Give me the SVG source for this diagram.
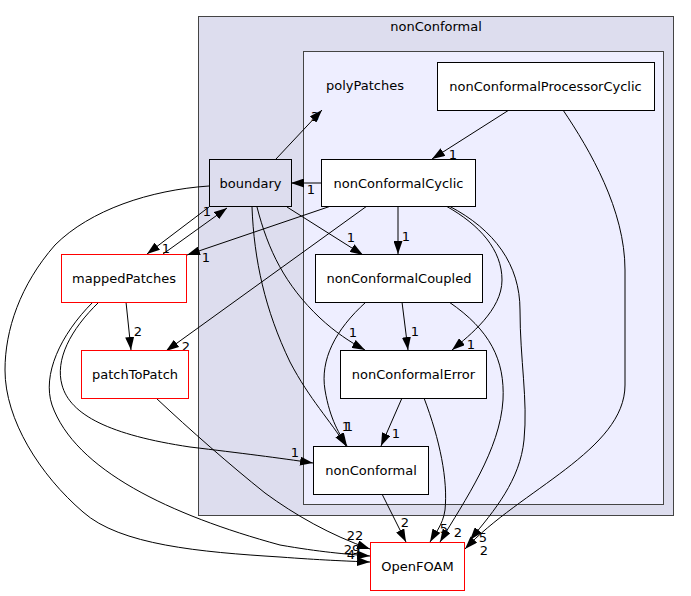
<svg xmlns="http://www.w3.org/2000/svg" width="691" height="596" viewBox="0 0 691 596">
<style>
text{font-family:"DejaVu Sans",sans-serif;font-size:13px;fill:#000}
.n{text-anchor:middle}
.lbl{text-anchor:middle}
.box{fill:#fff;stroke:#000;stroke-width:1}
.red{fill:#fff;stroke:#ff0000;stroke-width:1}
.e{fill:none;stroke:#000;stroke-width:1;marker-end:url(#a)}
</style>
<defs>
<marker id="a" viewBox="0 0 13 9" refX="13" refY="4.5" markerWidth="13" markerHeight="9" markerUnits="userSpaceOnUse" orient="auto">
<path d="M0,0 L13,4.5 L0,9 z" fill="#000"/>
</marker>
</defs>
<rect width="691" height="596" fill="#fff"/>
<g id="cluster_nonConformal">
<rect x="198.5" y="16.5" width="475" height="499" fill="#ddddee" stroke="#444"/>
<text class="n" x="436" y="31">nonConformal</text>
</g>
<g id="cluster_polyPatches">
<rect x="303.5" y="51.5" width="360" height="453" fill="#eeeeff" stroke="#444"/>
<text class="n" x="365" y="90">polyPatches</text>
</g>
<g id="edges">
<path class="e" d="M276,159 L322,110"/>
<path class="e" d="M509,110 L432,159"/>
<path class="e" d="M563,110 C590,150 625,210 625,270 L625,385 C625,450 520,490 465,549"/>
<path class="e" d="M321,183 L291,183"/>
<path class="e" d="M331,206 L187,255"/>
<path class="e" d="M367,206 L166,351"/>
<path class="e" d="M398,206 L398,254"/>
<path class="e" d="M446,206 C480,225 502,250 502,280 C502,310 470,335 452,350"/>
<path class="e" d="M449,206 C495,230 520,265 520,310 C520,360 528,400 524,440 C520,480 495,510 470,540"/>
<path class="e" d="M402,302 L408,350"/>
<path class="e" d="M366,302 C335,330 320,360 325,390 C330,420 340,435 347,446"/>
<path class="e" d="M449,302 C490,330 505,360 503,400 C500,450 465,500 440,542"/>
<path class="e" d="M402,398 L381,446"/>
<path class="e" d="M424,398 C440,440 448,480 445,510 C443,525 434,535 430,542"/>
<path class="e" d="M382,494 L406,542"/>
<path class="e" d="M287,207 L363,255"/>
<path class="e" d="M257,207 C268,250 285,285 320,318 C335,332 350,342 365,350"/>
<path class="e" d="M252,207 C254,260 265,310 290,362 C310,400 330,420 346,446"/>
<path class="e" d="M209,207 L147,254"/>
<path class="e" d="M163,254 L227,208"/>
<path class="e" d="M126,302 L131,350"/>
<path class="e" d="M99,302 C70,330 55,360 62,385 C70,415 110,435 190,447 C240,453 280,458 313,463"/>
<path class="e" d="M93,302 C60,335 42,375 52,405 C75,470 170,515 280,545 C320,552 345,554 370,556"/>
<path class="e" d="M209,186 C150,190 90,210 55,245 C20,285 5,330 5,370 C5,420 40,475 83,512 C120,545 200,552 280,557 C320,560 345,561 370,562"/>
<path class="e" d="M156,398 C190,430 230,465 265,493 C295,515 330,535 370,549"/>
<g id="edge_labels">
<text class="lbl" x="315" y="121">3</text>
<text class="lbl" x="453" y="159">1</text>
<text class="lbl" x="484" y="555">2</text>
<text class="lbl" x="311" y="194">1</text>
<text class="lbl" x="206" y="262">1</text>
<text class="lbl" x="186" y="351">2</text>
<text class="lbl" x="406" y="241">1</text>
<text class="lbl" x="471" y="349">1</text>
<text class="lbl" x="483" y="542">5</text>
<text class="lbl" x="415" y="336">1</text>
<text class="lbl" x="349" y="431">1</text>
<text class="lbl" x="458" y="537">2</text>
<text class="lbl" x="396" y="438">1</text>
<text class="lbl" x="444" y="533">5</text>
<text class="lbl" x="405" y="527">2</text>
<text class="lbl" x="351" y="242">1</text>
<text class="lbl" x="353" y="337">1</text>
<text class="lbl" x="346" y="431">1</text>
<text class="lbl" x="207" y="216">1</text>
<text class="lbl" x="166" y="253">1</text>
<text class="lbl" x="138" y="336">2</text>
<text class="lbl" x="295" y="457">1</text>
<text class="lbl" x="352" y="554">29</text>
<text class="lbl" x="351" y="559">4</text>
<text class="lbl" x="355" y="540">22</text>
</g>
</g>
<g id="node_nonConformalProcessorCyclic">
<rect class="box" x="437.5" y="62.5" width="217" height="48"/>
<text class="n" x="545.5" y="91">nonConformalProcessorCyclic</text>
</g>
<g id="node_boundary">
<rect x="209.5" y="159.5" width="82" height="47" fill="#ddddee" stroke="#000"/>
<text class="n" x="250.5" y="188">boundary</text>
</g>
<g id="node_nonConformalCyclic">
<rect class="box" x="321.5" y="159.5" width="154" height="47"/>
<text class="n" x="398.5" y="188">nonConformalCyclic</text>
</g>
<g id="node_nonConformalCoupled">
<rect class="box" x="315.5" y="254.5" width="167" height="48"/>
<text class="n" x="399" y="283">nonConformalCoupled</text>
</g>
<g id="node_nonConformalError">
<rect class="box" x="340.5" y="350.5" width="146" height="48"/>
<text class="n" x="413.5" y="379">nonConformalError</text>
</g>
<g id="node_nonConformal">
<rect class="box" x="313.5" y="446.5" width="115" height="48"/>
<text class="n" x="371" y="475">nonConformal</text>
</g>
<g id="node_OpenFOAM">
<rect class="red" x="370.5" y="542.5" width="94" height="48"/>
<text class="n" x="417.5" y="571">OpenFOAM</text>
</g>
<g id="node_mappedPatches">
<rect class="red" x="61.5" y="254.5" width="125" height="48"/>
<text class="n" x="124" y="283">mappedPatches</text>
</g>
<g id="node_patchToPatch">
<rect class="red" x="81.5" y="350.5" width="107" height="48"/>
<text class="n" x="135" y="379">patchToPatch</text>
</g>
</svg>
